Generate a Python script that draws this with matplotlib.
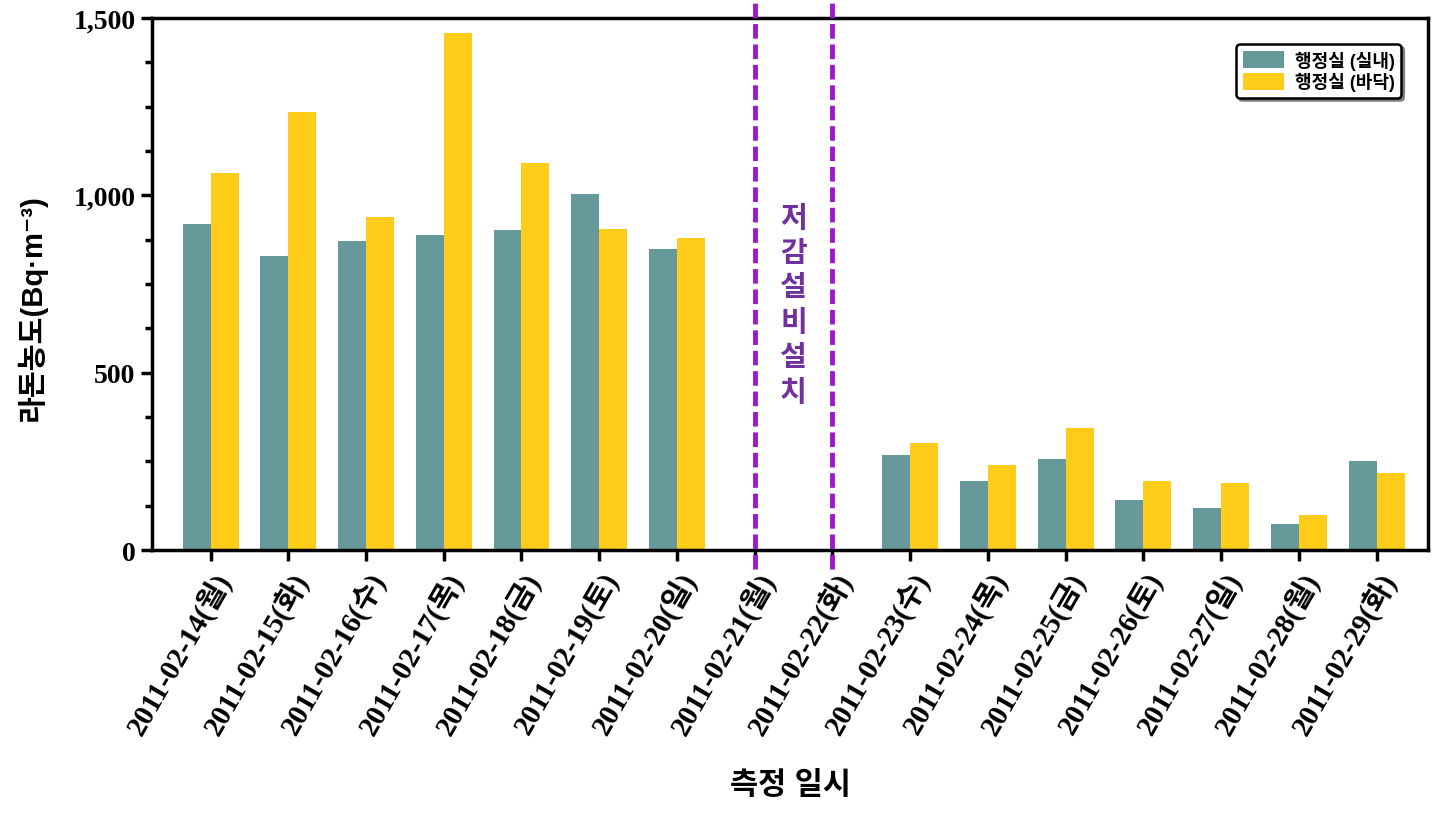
import numpy as np
import matplotlib
matplotlib.use('Agg')
import matplotlib.pyplot as plt
from matplotlib.ticker import MultipleLocator, FuncFormatter

dates = ['2011-02-14(월)', '2011-02-15(화)', '2011-02-16(수)', '2011-02-17(목)',
         '2011-02-18(금)', '2011-02-19(토)', '2011-02-20(일)', '2011-02-21(월)',
         '2011-02-22(화)', '2011-02-23(수)', '2011-02-24(목)', '2011-02-25(금)',
         '2011-02-26(토)', '2011-02-27(일)', '2011-02-28(월)', '2011-02-29(화)']
indoor = [920, 829, 871, 889, 902, 1005, 849, 0, 0, 268, 196, 258, 142, 118, 73, 252]
floor = [1062, 1234, 940, 1459, 1090, 906, 880, 0, 0, 302, 240, 343, 196, 189, 98, 217]
series_names = ['행정실 (실내)', '행정실 (바닥)']
install_marks = [7, 8]
install_text = '저\n감\n설\n비\n설\n치'

SERIF = ['Liberation Serif', 'Noto Sans CJK KR']
SANS = ['Liberation Sans', 'DejaVu Sans', 'Noto Sans CJK KR']


def plot_chart():
	fig = plt.figure(figsize=(14.36, 8.28), dpi=100)
	ax = fig.add_axes([0.106, 0.3345, 0.8884, 0.6425])

	x = np.arange(len(dates))
	w = 0.36
	ax.bar(x, indoor, width=-w, align='edge', color='#669999', label=series_names[0])
	ax.bar(x, floor, width=w, align='edge', color='#FFCC1A', label=series_names[1])

	for m in install_marks:
		ax.axvline(m, ymin=-0.036, ymax=1.036, color='#9A18D0', lw=3.5,
		           ls=(0, (3, 1.2)), clip_on=False, zorder=5)
	ax.text(7.5, 694, install_text, color='#7030A0', fontsize=21, fontweight='bold',
	        family=['Noto Sans CJK KR'], ha='center', va='center', linespacing=1.2)

	ax.set_xlim(-0.75, 15.66)
	ax.set_ylim(0, 1500)
	ax.yaxis.set_major_locator(MultipleLocator(500))
	ax.yaxis.set_minor_locator(MultipleLocator(125))
	ax.yaxis.set_major_formatter(FuncFormatter(lambda v, p: f'{int(v):,}'))

	ax.set_xticks(x)
	ax.set_xticklabels(dates, rotation=60, ha='right', rotation_mode='anchor',
	                   family=SERIF, fontweight='bold', fontsize=21)
	for lab in ax.get_yticklabels():
		lab.set_family(SERIF)
		lab.set_fontweight('bold')
		lab.set_fontsize(20)

	ax.tick_params(axis='both', which='major', direction='out', length=8, width=2.5, pad=4)
	ax.tick_params(axis='y', which='minor', direction='out', length=5, width=2.5)
	for s in ax.spines.values():
		s.set_linewidth(2.5)

	ax.set_ylabel('라돈농도(Bq·m⁻³)', family=SANS, fontsize=21, fontweight='bold')
	ax.yaxis.set_label_coords(-0.083, 0.458)
	ax.set_xlabel('측정 일시', family=SANS, fontsize=22, fontweight='bold', labelpad=22)

	leg = ax.legend(loc='upper right', bbox_to_anchor=(0.986, 0.968), fancybox=True,
	                shadow={'color': '#808080', 'alpha': 1}, framealpha=1,
	                prop={'family': SANS, 'weight': 'bold', 'size': 13},
	                handlelength=2.3, handleheight=1.1, labelspacing=0.15,
	                borderpad=0.35, handletextpad=0.6)
	leg.get_frame().set_edgecolor('black')
	leg.get_frame().set_linewidth(1.8)

	fig.savefig('out.png', dpi=100)


if __name__ == "__main__":
	plot_chart()
